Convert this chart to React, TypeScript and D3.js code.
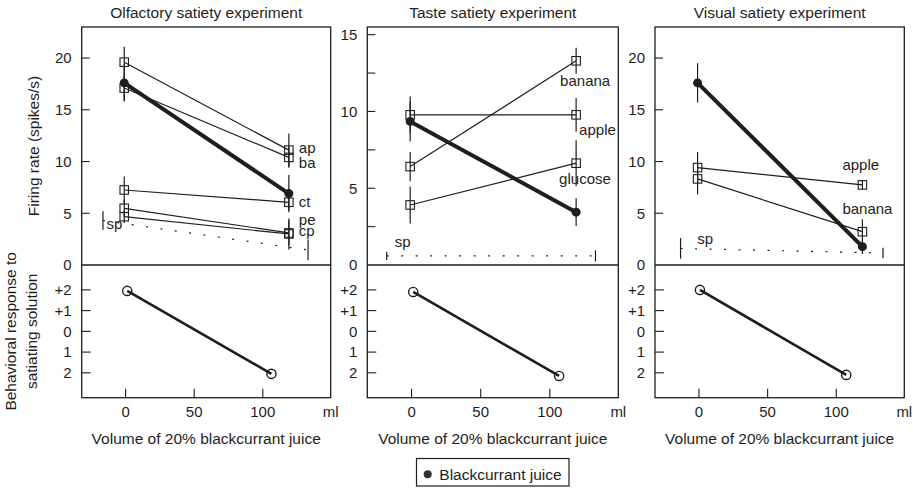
import React from 'react';
import * as d3 from 'd3';

// ---- data ----
const panelTitles = ['Olfactory satiety experiment', 'Taste satiety experiment', 'Visual satiety experiment'];
const doseX = [-1, 119]; // ml of juice given, start and end of the session

// olfactory experiment
const olfNames = ['ap', 'ba', 'ct', 'pe', 'cp'];
const olfRates = [[19.6, 11.1], [17.1, 10.4], [7.25, 6.06], [5.48, 3.1], [4.67, 3.0]];
const olfErr = [[1.5, 1.6], [1.2, 1.0], [1.3, 0.8], [0.8, 1.2], [0.6, 1.5]];
const olfJuice = [17.6, 6.9];
const olfJuiceErr = [1.8, 1.8];
const olfSpX = [-16.5, 133];
const olfSp = [4.3, 1.45];
const olfSpErr = [0.9, 1.0];

// taste experiment
const tasteNames = ['banana', 'apple', 'glucose'];
const tasteRates = [[6.41, 13.3], [9.78, 9.78], [3.91, 6.63]];
const tasteErr = [[0.95, 0.85], [1.2, 1.1], [1.2, 1.5]];
const tasteJuice = [9.35, 3.44];
const tasteJuiceErr = [1.3, 0.9];
const tasteSpX = [-18, 133];
const tasteSp = [0.59, 0.59];
const tasteSpErr = [0.27, 0.36];

// visual experiment
const visNames = ['apple', 'banana'];
const visRates = [[9.41, 7.74], [8.32, 3.22]];
const visErr = [[1.5, 0.45], [1.5, 1.2]];
const visJuice = [17.6, 1.77];
const visJuiceErr = [1.9, 0.7];
const visSpX = [-13.4, 134];
const visSp = [1.6, 1.16];
const visSpErr = [1.0, 0.5];

// behavioural response (+2 .. -2)
const behX = [[1.2, 106.3], [1.2, 106.7], [0.7, 107.2]];
const behY = [[1.95, -2.05], [1.9, -2.15], [2.0, -2.1]];

const xTicks = [0, 50, 100];
const rateTicks = [0, 5, 10, 15, 20];
const tasteTicks = [0, 2.5, 5, 7.5, 10, 12.5, 15];
const behTicks = [2, 1, 0, -1, -2];
const behTickLabels = ['+2', '+1', '0', '1', '2'];

// ---- layout ----
const W = 913, H = 489;
const top = 27, mid = 265, bottom = 397.7;
const panelX = [[81.7, 330.7], [367.3, 618.3], [655, 904.3]];
const xDomain = [-32, 149.5];
const font = '"Liberation Sans", Arial, Helvetica, sans-serif';
const ink = '#1e1e1e';

// label offsets (px) from series' right end point, sp label from left end
const olfLabelOff = [[10, 3], [10, 11], [10, 4.5], [10, -7.5], [10, 2.5]];
const tasteLabelOff = [[-16, 25], [3, 20], [-17, 21]];
const visLabelOff = [[-20, -15], [-20, -18]];
const spLabelOff = [[3.5, 8.5], [8, -9], [16.7, -4]];

const experiments = [
  { names: olfNames, rates: olfRates, err: olfErr, juice: olfJuice, juiceErr: olfJuiceErr, spX: olfSpX, sp: olfSp, spErr: olfSpErr, ymax: 23, ticks: rateTicks, labelOff: olfLabelOff },
  { names: tasteNames, rates: tasteRates, err: tasteErr, juice: tasteJuice, juiceErr: tasteJuiceErr, spX: tasteSpX, sp: tasteSp, spErr: tasteSpErr, ymax: 15.5, ticks: tasteTicks, labelOff: tasteLabelOff },
  { names: visNames, rates: visRates, err: visErr, juice: visJuice, juiceErr: visJuiceErr, spX: visSpX, sp: visSp, spErr: visSpErr, ymax: 23, ticks: rateTicks, labelOff: visLabelOff },
];

const Panel = ({ i }: { i: number }) => {
  const e = experiments[i];
  const [xL, xR] = panelX[i];
  const x = d3.scaleLinear().domain(xDomain).range([xL, xR]);
  const y = d3.scaleLinear().domain([0, e.ymax]).range([mid, top]);
  const yb = d3.scaleLinear().domain([-3.2, 3.2]).range([bottom, mid]);
  const line = d3.line<number[]>().x(d => x(d[0])).y(d => y(d[1]));
  const cx = (xL + xR) / 2;
  const sq = 8.5;

  return (
    <g>
      <text x={cx} y={18} textAnchor="middle" fontSize={15.5} fill={ink}>{panelTitles[i]}</text>

      {/* frames */}
      <rect x={xL} y={top} width={xR - xL} height={bottom - top} fill="none" stroke={ink} strokeWidth={1.3} />
      <line x1={xL} x2={xR} y1={mid} y2={mid} stroke={ink} strokeWidth={1.3} />

      {/* y ticks upper */}
      {e.ticks.map(t => (
        <g key={t}>
          {t > 0 && <line x1={xL} x2={xL + 8} y1={y(t)} y2={y(t)} stroke={ink} strokeWidth={1.1} />}
          {t % 5 === 0 && (
            <text x={xL - 10} y={y(t)} dy="0.36em" textAnchor="end" fontSize={15} fill={ink}>{t}</text>
          )}
        </g>
      ))}

      {/* y ticks lower */}
      {behTicks.map((t, k) => (
        <g key={t}>
          <line x1={xL} x2={xL + 9} y1={yb(t)} y2={yb(t)} stroke={ink} strokeWidth={1.1} />
          <text x={xL - 10} y={yb(t)} dy="0.36em" textAnchor="end" fontSize={15} fill={ink}>{behTickLabels[k]}</text>
        </g>
      ))}

      {/* x ticks */}
      {xTicks.map(t => (
        <g key={t}>
          <line x1={x(t)} x2={x(t)} y1={bottom} y2={bottom - 9} stroke={ink} strokeWidth={1.1} />
          <text x={x(t)} y={417.3} textAnchor="middle" fontSize={15} fill={ink}>{t}</text>
        </g>
      ))}
      <text x={xR} y={417.3} textAnchor="middle" fontSize={15} fill={ink}>ml</text>
      <text x={cx} y={444} textAnchor="middle" fontSize={15.5} fill={ink}>Volume of 20% blackcurrant juice</text>

      {/* spontaneous rate */}
      <line x1={x(e.spX[0])} x2={x(e.spX[1])} y1={y(e.sp[0])} y2={y(e.sp[1])}
        stroke={ink} strokeWidth={1.2} strokeDasharray="2 12.5" />
      {e.spX.map((sx, k) => (
        <line key={k} x1={x(sx)} x2={x(sx)} y1={y(e.sp[k] - e.spErr[k])} y2={y(e.sp[k] + e.spErr[k])}
          stroke={ink} strokeWidth={1.2} />
      ))}
      <text x={x(e.spX[0]) + spLabelOff[i][0]} y={y(e.sp[0]) + spLabelOff[i][1]} fontSize={15} fill={ink}>sp</text>

      {/* error bars */}
      {e.rates.map((r, s) => r.map((v, k) => (
        <line key={`${s}-${k}`} x1={x(doseX[k])} x2={x(doseX[k])}
          y1={y(v - e.err[s][k])} y2={y(v + e.err[s][k])} stroke={ink} strokeWidth={1.2} />
      )))}
      {e.juice.map((v, k) => (
        <line key={k} x1={x(doseX[k])} x2={x(doseX[k])}
          y1={y(v - e.juiceErr[k])} y2={y(v + e.juiceErr[k])} stroke={ink} strokeWidth={1.2} />
      ))}

      {/* other food series */}
      {e.rates.map((r, s) => (
        <g key={s}>
          <path d={line(r.map((v, k) => [doseX[k], v])) || ''} fill="none" stroke={ink} strokeWidth={1.2} />
          {r.map((v, k) => (
            <rect key={k} x={x(doseX[k]) - sq / 2} y={y(v) - sq / 2} width={sq} height={sq}
              fill="none" stroke={ink} strokeWidth={1.1} />
          ))}
          <text x={x(doseX[1]) + e.labelOff[s][0]} y={y(r[1]) + e.labelOff[s][1]} fontSize={15} fill={ink}>{e.names[s]}</text>
        </g>
      ))}

      {/* blackcurrant juice */}
      <path d={line(e.juice.map((v, k) => [doseX[k], v])) || ''} fill="none" stroke={ink} strokeWidth={4} />
      {e.juice.map((v, k) => (
        <circle key={k} cx={x(doseX[k])} cy={y(v)} r={4.5} fill={ink} />
      ))}

      {/* behavioural response */}
      <line x1={x(behX[i][0])} x2={x(behX[i][1])} y1={yb(behY[i][0])} y2={yb(behY[i][1])} stroke={ink} strokeWidth={2.6} />
      {behX[i].map((bx, k) => (
        <circle key={k} cx={x(bx)} cy={yb(behY[i][k])} r={4.6} fill="none" stroke={ink} strokeWidth={1.4} />
      ))}
    </g>
  );
};

export default function App() {
  return (
    <svg width={W} height={H} style={{ position: 'absolute', left: 0, top: 0, background: '#fff' }} fontFamily={font}>
      <rect width={W} height={H} fill="#fff" />
      {panelTitles.map((_, i) => <Panel key={i} i={i} />)}

      <text transform={`translate(38.5,${(top + mid) / 2}) rotate(-90)`} textAnchor="middle" fontSize={15.5} fill={ink}>Firing rate (spikes/s)</text>
      <text transform={`translate(16,${(mid + bottom) / 2}) rotate(-90)`} textAnchor="middle" fontSize={15.5} fill={ink}>Behavioral response to</text>
      <text transform={`translate(36.5,${(mid + bottom) / 2}) rotate(-90)`} textAnchor="middle" fontSize={15.5} fill={ink}>satiating solution</text>

      {/* legend */}
      <rect x={416.5} y={458.5} width={152.5} height={27.5} fill="none" stroke={ink} strokeWidth={1.2} />
      <circle cx={427.7} cy={474.3} r={4} fill="#333" />
      <text x={439.3} y={480} fontSize={15.5} fill={ink}>Blackcurrant juice</text>
    </svg>
  );
}
